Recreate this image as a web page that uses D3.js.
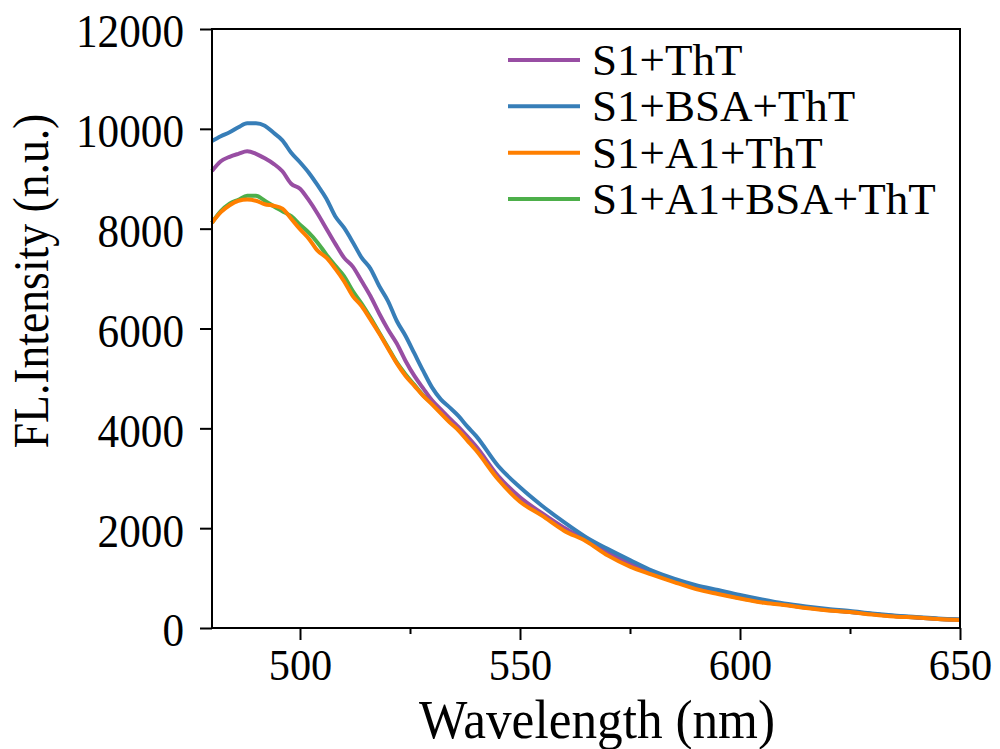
<!DOCTYPE html>
<html>
<head>
<meta charset="utf-8">
<script src="https://cdn.jsdelivr.net/npm/d3@7"></script>
<style>
  body { margin: 0; background: #fff; }
  svg { display: block; }
  text { font-family: "Liberation Serif", "Times New Roman", serif; fill: #000; }
</style>
</head>
<body>
<div id="chart"></div>
<script>
// wavelength grid (nm)
const wavelength = [480, 482, 484, 486, 488, 490, 492, 494, 496, 498, 500, 502, 504, 506, 508, 510,
    512, 514, 516, 518, 520, 522, 524, 526, 528, 530, 532, 534, 536, 538, 540,
    545, 550, 555, 560, 565, 570, 575, 580, 585, 590, 595, 600, 605, 610, 615, 620, 625, 630, 635, 640, 645, 650];

const s1ThT = [9154, 9350, 9440, 9500, 9550, 9500, 9410, 9300, 9150, 8900, 8800, 8570, 8300, 8000, 7700, 7420,
    7240, 6950, 6650, 6300, 5980, 5700, 5350, 5050, 4800, 4560, 4380, 4200, 4030, 3840, 3640,
    3050, 2620, 2300, 2010, 1770, 1510, 1300, 1110, 950, 810, 710, 620, 530, 470, 410, 360, 320, 280, 240, 210, 180, 165];

const s1BsaThT = [9755, 9850, 9930, 10030, 10110, 10110, 10060, 9920, 9770, 9520, 9330, 9120, 8870, 8600, 8250, 8020,
    7730, 7420, 7200, 6850, 6550, 6150, 5850, 5500, 5150, 4820, 4580, 4420, 4250, 4040, 3850,
    3250, 2820, 2450, 2120, 1820, 1580, 1360, 1150, 990, 860, 760, 660, 570, 490, 430, 380, 340, 290, 250, 220, 190, 170];

const s1A1ThT = [8118, 8330, 8470, 8560, 8586, 8560, 8490, 8460, 8400, 8200, 7990, 7800, 7560, 7420, 7200, 6950,
    6650, 6450, 6180, 5900, 5600, 5300, 5050, 4850, 4650, 4480, 4300, 4120, 3960, 3760, 3560,
    2980, 2530, 2250, 1950, 1740, 1450, 1230, 1070, 920, 780, 680, 590, 510, 460, 400, 350, 320, 270, 230, 210, 180, 160];

const s1A1BsaThT = [8118, 8350, 8500, 8580, 8660, 8660, 8560, 8450, 8350, 8250, 8080, 7920, 7720, 7480, 7260, 7050,
    6750, 6500, 6220, 5920, 5620, 5320, 5080, 4870, 4660, 4500, 4320, 4140, 3980, 3790, 3600,
    3010, 2570, 2280, 1980, 1760, 1480, 1260, 1100, 940, 800, 700, 600, 520, 470, 410, 360, 320, 280, 240, 210, 180, 165];

const legendLabels = ["S1+ThT", "S1+BSA+ThT", "S1+A1+ThT", "S1+A1+BSA+ThT"];
const colors = ["#984ea3", "#377eb8", "#ff7f00", "#4daf4a"];
const seriesValues = [s1ThT, s1BsaThT, s1A1ThT, s1A1BsaThT];
const drawOrder = [3, 0, 1, 2];

const xTicks = [500, 550, 600, 650];
const xMinorTicks = [525, 575, 625];
const yTicks = [0, 2000, 4000, 6000, 8000, 10000, 12000];

const width = 1000, height = 749;
const margin = {top: 29, right: 40, bottom: 121, left: 212};

const svg = d3.select("#chart").append("svg")
    .attr("width", width)
    .attr("height", height);

const x = d3.scaleLinear().domain([480, 650]).range([margin.left, width - margin.right]);
const y = d3.scaleLinear().domain([0, 12000]).range([height - margin.bottom, margin.top]);

// lines
const line = d3.line()
    .x((d, i) => x(wavelength[i]))
    .y(d => y(d))
    .curve(d3.curveMonotoneX);

svg.append("g")
    .selectAll("path")
    .data(drawOrder)
    .join("path")
    .attr("d", k => line(seriesValues[k]))
    .attr("fill", "none")
    .attr("stroke", k => colors[k])
    .attr("stroke-width", 4)
    .attr("stroke-linejoin", "round");

// frame
svg.append("rect")
    .attr("x", x(480)).attr("y", y(12000))
    .attr("width", x(650) - x(480)).attr("height", y(0) - y(12000))
    .attr("fill", "none").attr("stroke", "#000").attr("stroke-width", 2);

// x axis
const xAxis = svg.append("g")
    .attr("transform", `translate(0,${y(0)})`)
    .call(d3.axisBottom(x).tickValues(xTicks).tickSize(12).tickFormat(d3.format("d")));
xAxis.select(".domain").remove();
xAxis.selectAll(".tick line").attr("stroke-width", 2);
xAxis.selectAll(".tick text")
    .attr("font-size", 45)
    .attr("y", 52).attr("dy", 0)
    .attr("transform", "scale(0.94,1)");

const xMinor = svg.append("g")
    .attr("transform", `translate(0,${y(0)})`)
    .call(d3.axisBottom(x).tickValues(xMinorTicks).tickSize(6).tickFormat(""));
xMinor.select(".domain").remove();
xMinor.selectAll(".tick line").attr("stroke-width", 2);

// y axis
const yAxis = svg.append("g")
    .attr("transform", `translate(${x(480)},0)`)
    .call(d3.axisLeft(y).tickValues(yTicks).tickSize(12).tickPadding(16).tickFormat(d3.format("d")));
yAxis.select(".domain").remove();
yAxis.selectAll(".tick line").attr("stroke-width", 2);
yAxis.selectAll(".tick text")
    .attr("font-size", 47)
    .attr("dy", "0.38em")
    .attr("x", -28 / 0.92)
    .attr("transform", "scale(0.92,1)");

// axis titles
svg.append("text")
    .attr("transform", "translate(597,738) scale(0.95,1)")
    .attr("text-anchor", "middle")
    .attr("font-size", 54)
    .text("Wavelength (nm)");

svg.append("text")
    .attr("transform", "translate(48,281) rotate(-90) scale(0.913,1)")
    .attr("text-anchor", "middle")
    .attr("font-size", 50)
    .text("FL.Intensity (n.u.)");

// legend
const legend = svg.append("g");
const rowY = d3.scalePoint().domain(d3.range(4)).range([60, 199]);
const rows = legend.selectAll("g")
    .data(d3.range(4))
    .join("g")
    .attr("transform", i => `translate(0,${rowY(i)})`);
rows.append("line")
    .attr("x1", 508).attr("x2", 580)
    .attr("stroke", i => colors[i])
    .attr("stroke-width", 4);
rows.append("text")
    .attr("x", 592)
    .attr("y", 15)
    .attr("font-size", 45)
    .text(i => legendLabels[i]);
</script>
</body>
</html>
